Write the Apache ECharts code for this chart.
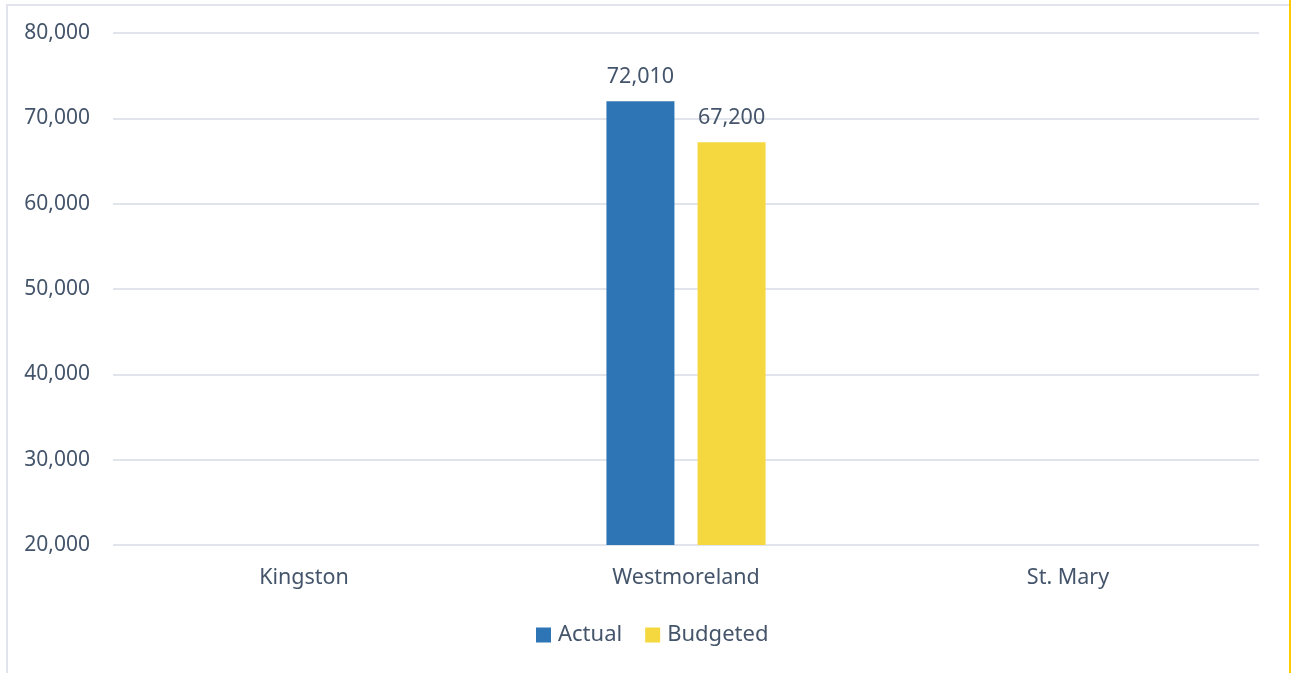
<!DOCTYPE html>
<html>
<head>
<meta charset="utf-8">
<script src="https://cdn.jsdelivr.net/npm/echarts@6/dist/echarts.min.js"></script>
<style>
html, body { margin: 0; padding: 0; background: #fff; }
#frame { position: absolute; left: 6px; top: 4px; width: 1281px; height: 720px; border: 2px solid #e1e5eb; border-bottom: none; }
#edge { position: absolute; left: 1289px; top: 0; width: 2px; height: 673px; background: #ffcc00; }
#main { position: absolute; left: 0; top: 0; width: 1291px; height: 673px; }
</style>
</head>
<body>
<div id="frame"></div>
<div id="edge"></div>
<div id="main"></div>
<script>
var categories = ['Kingston', 'Westmoreland', 'St. Mary'];
var actual = [null, 72010, null];
var budgeted = [null, 67200, null];

var textColor = '#44546a';
var font = 'Noto Sans';

var myChart = echarts.init(document.getElementById('main'));

function fmt(p) {
    return p.value.toLocaleString('en-US');
}

myChart.setOption({
    animation: false,
    color: ['#2e75b6', '#f5d83f'],
    grid: {
        left: 113,
        right: 32,
        top: 33,
        bottom: 128
    },
    legend: {
        data: ['Actual', 'Budgeted'],
        left: 536,
        bottom: 27,
        padding: 0,
        itemWidth: 15,
        itemHeight: 15,
        itemGap: 23,
        icon: 'rect',
        textStyle: { color: textColor, fontSize: 22, fontFamily: font, padding: [0, 0, 0, 2] }
    },
    xAxis: {
        type: 'category',
        data: categories,
        axisLine: { show: false },
        axisTick: { show: false },
        axisLabel: { color: textColor, fontSize: 21.5, fontFamily: font, margin: 22 }
    },
    yAxis: {
        type: 'value',
        min: 20000,
        max: 80000,
        interval: 10000,
        axisLine: { show: false },
        axisTick: { show: false },
        splitLine: { lineStyle: { color: '#e1e5eb', width: 2 } },
        axisLabel: {
            color: textColor, fontSize: 21, fontFamily: font, margin: 23,
            formatter: function (v) { return v.toLocaleString('en-US'); }
        }
    },
    series: [
        {
            name: 'Actual',
            type: 'bar',
            data: actual,
            barWidth: 68,
            barGap: '34%',
            label: { show: true, position: 'top', distance: 13, color: textColor, fontSize: 21.5, fontFamily: font, formatter: fmt }
        },
        {
            name: 'Budgeted',
            type: 'bar',
            data: budgeted,
            barWidth: 68,
            label: { show: true, position: 'top', distance: 13, color: textColor, fontSize: 21.5, fontFamily: font, formatter: fmt }
        }
    ]
});
</script>
</body>
</html>
